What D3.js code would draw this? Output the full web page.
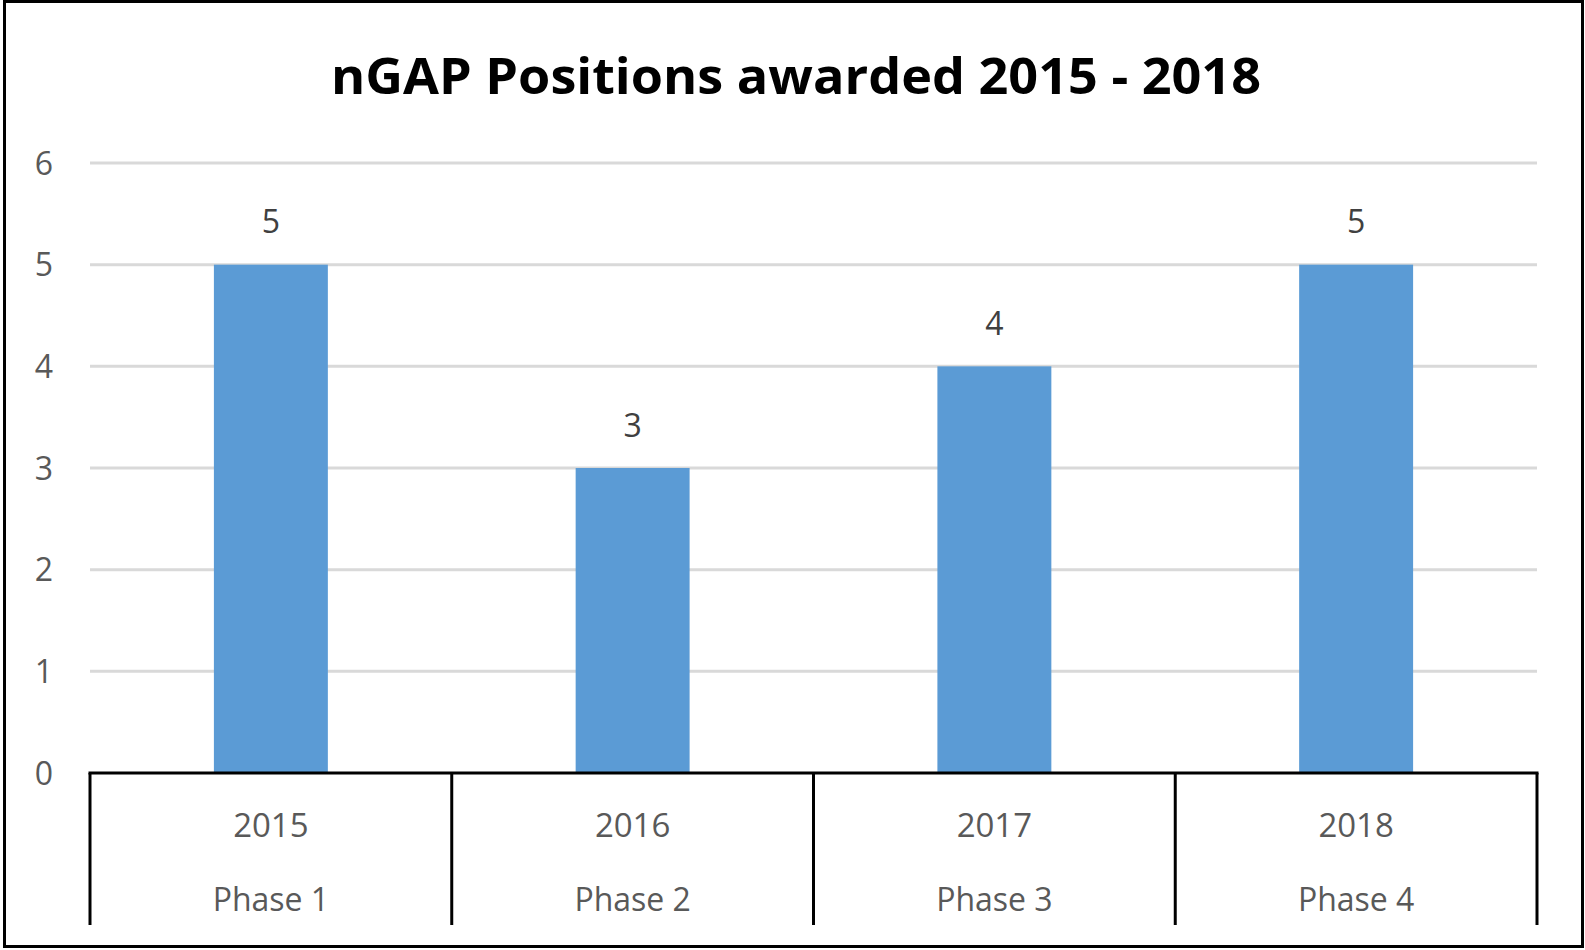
<!DOCTYPE html>
<html>
<head>
<meta charset="utf-8">
<script src="https://cdn.jsdelivr.net/npm/d3@7"></script>
<style>
  body { margin: 0; background: #fff; }
  text { font-family: "Open Sans", "DejaVu Sans", sans-serif; }
</style>
</head>
<body>
<svg id="chart"></svg>
<script>
// chart data
var years = ["2015", "2016", "2017", "2018"];
var phases = ["Phase 1", "Phase 2", "Phase 3", "Phase 4"];
var positions = [5, 3, 4, 5];
var yTicks = [0, 1, 2, 3, 4, 5, 6];
var title = "nGAP Positions awarded 2015 - 2018";

var W = 1585, H = 950;
var margin = {top: 163, right: 48, bottom: 177, left: 90};
var w = W - margin.left - margin.right,
    h = H - margin.top - margin.bottom;

var svg = d3.select('#chart')
    .attr('width', W)
    .attr('height', H);

// outer frame
svg.append('rect')
    .attr('x', 4.5)
    .attr('y', 1.5)
    .attr('width', W - 7)
    .attr('height', H - 5)
    .attr('fill', 'none')
    .attr('stroke', '#000')
    .attr('stroke-width', 3);

svg.append('text')
    .text(title)
    .attr('x', 796)
    .attr('y', 80)
    .attr('text-anchor', 'middle')
    .attr('dominant-baseline', 'middle')
    .attr('font-size', '51px')
    .attr('font-weight', 'bold')
    .attr('textLength', 930)
    .attr('lengthAdjust', 'spacingAndGlyphs')
    .attr('fill', '#000');

var g = svg.append('g')
    .attr('transform', 'translate(' + margin.left + ',' + margin.top + ')');

var x = d3.scaleBand().domain(years).range([0, w]).padding(0);
var y = d3.scaleLinear().domain([0, 6]).range([h, 0]);
var barW = x.bandwidth() * 0.315;

// gridlines
g.append('g').selectAll('line')
    .data(yTicks.filter(function(d) { return d > 0; }))
    .enter().append('line')
    .attr('x1', 0)
    .attr('x2', w)
    .attr('y1', function(d) { return y(d); })
    .attr('y2', function(d) { return y(d); })
    .attr('stroke', '#d9d9d9')
    .attr('stroke-width', 3);

// y tick labels
g.append('g').selectAll('text')
    .data(yTicks)
    .enter().append('text')
    .text(function(d) { return d; })
    .attr('x', -37)
    .attr('y', function(d) { return y(d) + 3; })
    .attr('text-anchor', 'end')
    .attr('dominant-baseline', 'middle')
    .attr('font-size', '32px')
    .attr('fill', '#595959');

// bars
g.append('g').selectAll('rect')
    .data(positions)
    .enter().append('rect')
    .attr('x', function(d, i) { return x(years[i]) + x.bandwidth() / 2 - barW / 2; })
    .attr('y', function(d) { return y(d); })
    .attr('width', barW)
    .attr('height', function(d) { return h - y(d); })
    .attr('fill', '#5b9bd5');

// value labels
g.append('g').selectAll('text')
    .data(positions)
    .enter().append('text')
    .text(function(d) { return d; })
    .attr('x', function(d, i) { return x(years[i]) + x.bandwidth() / 2; })
    .attr('y', function(d) { return y(d) - 40; })
    .attr('text-anchor', 'middle')
    .attr('dominant-baseline', 'middle')
    .attr('font-size', '32px')
    .attr('fill', '#404040');

// category axis: baseline and separators
g.append('line')
    .attr('x1', -1.5)
    .attr('x2', w + 1.5)
    .attr('y1', h)
    .attr('y2', h)
    .attr('stroke', '#000')
    .attr('stroke-width', 3);

var seps = years.map(function(d) { return x(d); }).concat([w]);
g.append('g').selectAll('line')
    .data(seps)
    .enter().append('line')
    .attr('x1', function(d) { return d; })
    .attr('x2', function(d) { return d; })
    .attr('y1', h)
    .attr('y2', h + 152)
    .attr('stroke', '#000')
    .attr('stroke-width', 3);

g.append('g').selectAll('text')
    .data(years)
    .enter().append('text')
    .text(function(d) { return d; })
    .attr('x', function(d) { return x(d) + x.bandwidth() / 2; })
    .attr('y', h + 55)
    .attr('text-anchor', 'middle')
    .attr('dominant-baseline', 'middle')
    .attr('font-size', '33px')
    .attr('fill', '#595959');

g.append('g').selectAll('text')
    .data(phases)
    .enter().append('text')
    .text(function(d) { return d; })
    .attr('x', function(d, i) { return x(years[i]) + x.bandwidth() / 2; })
    .attr('y', h + 129)
    .attr('text-anchor', 'middle')
    .attr('dominant-baseline', 'middle')
    .attr('font-size', '32px')
    .attr('fill', '#595959');
</script>
</body>
</html>
